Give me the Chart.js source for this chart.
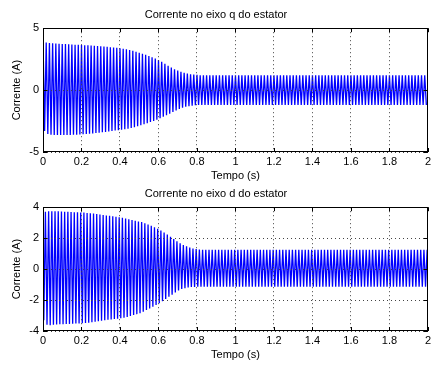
<!DOCTYPE html>
<html>
<head>
<meta charset="utf-8">
<script src="https://cdn.jsdelivr.net/npm/chart.js@4"></script>
<style>
  html, body { margin: 0; padding: 0; background: #fff; }
  #wrap { position: relative; width: 434px; height: 367px; overflow: hidden; }
  .panel { position: absolute; left: 0; width: 434px; height: 184px; }
</style>
</head>
<body>
<div id="wrap">
  <div class="panel" style="top:0"><canvas id="qChart" width="434" height="184"></canvas></div>
  <div class="panel" style="top:179px"><canvas id="dChart" width="434" height="184"></canvas></div>
</div>
<script>
// Signal: 60 Hz stator current, 2 s -> 120 cycles
const FREQ = 60;
const CYCLES = 120;

// q-axis current: peak / trough of each cycle during the transient
const qPeaks = [4.2, 3.85, 3.8, 3.78, 3.76, 3.75, 3.73, 3.72, 3.7, 3.69, 3.67, 3.66,
  3.64, 3.63, 3.62, 3.6, 3.58, 3.56, 3.54, 3.52, 3.5, 3.47, 3.45, 3.42,
  3.38, 3.34, 3.29, 3.23, 3.17, 3.1, 3.02, 2.94, 2.85, 2.76, 2.66, 2.55,
  2.43, 2.28, 2.12, 1.96, 1.82, 1.69, 1.58, 1.48, 1.4, 1.33, 1.28, 1.25, 1.23];
const qTroughs = [-3.3, -3.55, -3.6, -3.62, -3.63, -3.63, -3.63, -3.62, -3.62, -3.61, -3.6, -3.59,
  -3.57, -3.55, -3.53, -3.5, -3.47, -3.44, -3.41, -3.38, -3.34, -3.3, -3.27, -3.24,
  -3.21, -3.17, -3.12, -3.06, -2.99, -2.92, -2.84, -2.76, -2.67, -2.58, -2.49, -2.39,
  -2.28, -2.16, -2.03, -1.9, -1.77, -1.64, -1.52, -1.42, -1.35, -1.3, -1.26, -1.23, -1.21];
const qSteady = [1.2, -1.2];

// d-axis current
const dPeaks = [3.7, 3.74, 3.74, 3.73, 3.73, 3.72, 3.71, 3.7, 3.69, 3.68, 3.67, 3.66,
  3.65, 3.63, 3.61, 3.59, 3.56, 3.53, 3.5, 3.47, 3.44, 3.41, 3.38, 3.35,
  3.31, 3.27, 3.22, 3.17, 3.12, 3.08, 3.04, 2.97, 2.88, 2.8, 2.7, 2.6,
  2.5, 2.37, 2.23, 2.09, 1.95, 1.8, 1.67, 1.56, 1.47, 1.39, 1.33, 1.29, 1.27];
const dTroughs = [-3.3, -3.6, -3.62, -3.6, -3.58, -3.57, -3.56, -3.55, -3.54, -3.53, -3.52, -3.51,
  -3.5, -3.48, -3.46, -3.43, -3.4, -3.37, -3.34, -3.31, -3.28, -3.25, -3.22, -3.2,
  -3.18, -3.14, -3.09, -3.03, -2.97, -2.91, -2.86, -2.76, -2.65, -2.54, -2.43, -2.32,
  -2.21, -2.07, -1.93, -1.79, -1.65, -1.51, -1.38, -1.29, -1.23, -1.19, -1.16, -1.15, -1.14];
const dSteady = [1.25, -1.14];

const xTicks = { min: 0, max: 2, step: 0.2 };
const qTicks = { min: -5, max: 5, step: 5 };
const dTicks = { min: -4, max: 4, step: 2 };

// one point per half cycle; "first"/"second" say which extreme comes first in each cycle
function buildSeries(first, second, steadyFirst, steadySecond, offset, start) {
  const pts = start ? [start] : [];
  for (let k = 0; k < CYCLES; k++) {
    const a = k < first.length ? first[k] : steadyFirst;
    const b = k < second.length ? second[k] : steadySecond;
    pts.push({ x: (k + offset) / FREQ, y: a });
    pts.push({ x: (k + offset + 0.5) / FREQ, y: b });
  }
  return pts;
}

const qData = buildSeries(qPeaks, qTroughs, qSteady[0], qSteady[1], 0, null);
const dData = buildSeries(dTroughs, dPeaks, dSteady[1], dSteady[0], 0.25, { x: 0, y: 0 });

const font = { family: "'Liberation Sans', Arial, sans-serif", size: 11 };
Chart.defaults.color = '#000';

// MATLAB-like axes box with inward tick marks
const boxPlugin = {
  id: 'box',
  afterDraw(chart) {
    const { ctx, chartArea: a, scales } = chart;
    ctx.save();
    ctx.strokeStyle = '#000';
    ctx.lineWidth = 1;
    ctx.strokeRect(Math.round(a.left) + 0.5, Math.round(a.top) + 0.5,
      Math.round(a.right - a.left) - 1, Math.round(a.bottom - a.top) - 1);
    ctx.beginPath();
    scales.x.ticks.forEach(t => {
      const px = Math.round(scales.x.getPixelForValue(t.value)) + 0.5;
      ctx.moveTo(px, a.bottom); ctx.lineTo(px, a.bottom - 4);
      ctx.moveTo(px, a.top); ctx.lineTo(px, a.top + 4);
    });
    scales.y.ticks.forEach(t => {
      const py = Math.round(scales.y.getPixelForValue(t.value)) + 0.5;
      ctx.moveTo(a.left, py); ctx.lineTo(a.left + 4, py);
      ctx.moveTo(a.right, py); ctx.lineTo(a.right - 4, py);
    });
    ctx.stroke();
    ctx.restore();
  }
};

const fmt = v => String(Number(v.toFixed(1)));

function makeChart(id, title, data, yT) {
  const H = 184;
  return new Chart(document.getElementById(id).getContext('2d'), {
    type: 'line',
    data: {
      datasets: [{
        data: data,
        borderColor: '#0000ff',
        borderWidth: 1.3,
        pointRadius: 0,
        tension: 0,
        fill: false
      }]
    },
    options: {
      responsive: false,
      animation: false,
      layout: { padding: { left: 0, right: 2, top: 0, bottom: 0 } },
      plugins: {
        legend: { display: false },
        tooltip: { enabled: false },
        title: {
          display: true, text: title, color: '#000',
          font: { ...font, weight: 'normal' },
          padding: { top: 8, bottom: 7 }
        }
      },
      scales: {
        x: {
          type: 'linear', min: xTicks.min, max: xTicks.max,
          ticks: { stepSize: xTicks.step, font: font, padding: 3, maxRotation: 0, callback: fmt },
          grid: { color: '#444', drawTicks: false, z: 1 },
          border: { display: false, dash: [1, 3] },
          title: { display: true, text: 'Tempo (s)', font: font, padding: { top: 0, bottom: 1 } },
          afterFit(s) { s.height = H - 152; }
        },
        y: {
          min: yT.min, max: yT.max,
          ticks: { stepSize: yT.step, font: font, padding: 4, callback: fmt },
          grid: { color: '#444', drawTicks: false, z: 1 },
          border: { display: false, dash: [1, 3] },
          title: { display: true, text: 'Corrente (A)', font: font, padding: { top: 10, bottom: 0 } },
          afterFit(s) { s.width = 43; }
        }
      }
    },
    plugins: [boxPlugin]
  });
}

makeChart('qChart', 'Corrente no eixo q do estator', qData, qTicks);
makeChart('dChart', 'Corrente no eixo d do estator', dData, dTicks);
</script>
</body>
</html>
